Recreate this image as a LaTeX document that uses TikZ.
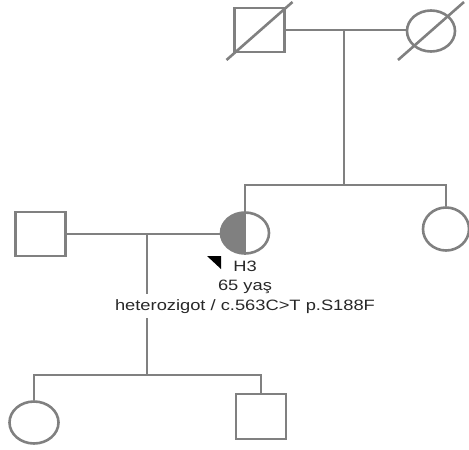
\documentclass[tikz,border=0pt]{standalone}
\usepackage{fontspec}
\setmainfont{Liberation Sans}
\usepackage{tikz}
\usetikzlibrary{shapes.geometric,positioning}
\definecolor{pedgray}{RGB}{128,128,128}
\definecolor{pedtext}{RGB}{40,40,40}

\begin{document}
\begin{tikzpicture}[x=1pt, y=-1pt,
  %% styles
  male/.style={rectangle, draw=pedgray, fill=white, line width=2.6pt,
               minimum width=50pt, minimum height=44pt, inner sep=0pt},
  female/.style={ellipse, draw=pedgray, fill=white, line width=2.6pt,
                 minimum width=48pt, minimum height=41pt, inner sep=0pt},
  carrier/.style={female, path picture={
      \fill[pedgray] (path picture bounding box.north west)
        rectangle (path picture bounding box.south);}},
  rel/.style={draw=pedgray, line width=2.6pt},
  dead/.style={draw=pedgray, line width=2.6pt},
  lbl/.style={font=\fontsize{15}{15}\selectfont, text=pedtext,
              align=center, inner sep=0pt, xscale=1.22,
              text height=11pt, text depth=3pt},
]
\useasboundingbox (0,0) rectangle (469,450);

%%
%% generation rows (y-centres)
%%
\def\Ga{31}    % grandparents
\def\Gb{233}   % proband row
\def\Gc{419}   % children

%% ------ individuals -----------------------------------------------------
\node[male]   (gpa) at (259.5,\Ga-1) {};
\node[female] (gma) at (431,\Ga) {};

\node[male]    (husband) at (40.5,\Gb+1) {};
\node[carrier] (proband) at (245,\Gb) {};
\node[female, minimum width=46pt, minimum height=43pt] (sister) at (446,\Gb-4) {};

\node[female, minimum width=49pt, minimum height=42pt] (daughter) at (34,\Gc+3.5) {};
\node[male, minimum height=45pt] (son) at (261,\Gc-2.5) {};

%% deceased marks
\draw[dead] (gpa.center) ++(-33,30) -- ++(66,-58);
\draw[dead] (gma.center) ++(-33,29) -- ++(66,-58);

%% proband: half line + arrow
\draw[rel] (proband.north) -- (proband.south);
\fill[black] (207,256) -- (221,256) -- (221,269) -- cycle;

%% ------ relationship lines ---------------------------------------------
\coordinate (sibA) at (344,185);
\coordinate (sibB) at (147,375);

%% grandparents
\draw[rel] (gpa.east) -- (gpa.east -| gma.west);
\draw[rel] (gpa.east -| sibA) -- (sibA);
\draw[rel] (proband.north) -- (proband.north |- sibA) -| (sister.north);

%% husband + proband
\draw[rel] (husband.east) -- (husband.east -| proband.west);
\draw[rel] (husband.east -| sibB) -- (sibB);
\draw[rel] (daughter.north) -- (daughter.north |- sibB) -| (son.north);

%% ------ labels -----------------------------------------------------------
\node[lbl, anchor=north] (h3lbl) at (245,260) {H3};
\node[lbl, below=5pt of h3lbl] (agelbl) {65 yaş};
\node[lbl, below=0pt of agelbl, fill=white, inner ysep=5pt] (genelbl)
  {heterozigot / c.563C>T p.S188F};

\end{tikzpicture}
\end{document}
